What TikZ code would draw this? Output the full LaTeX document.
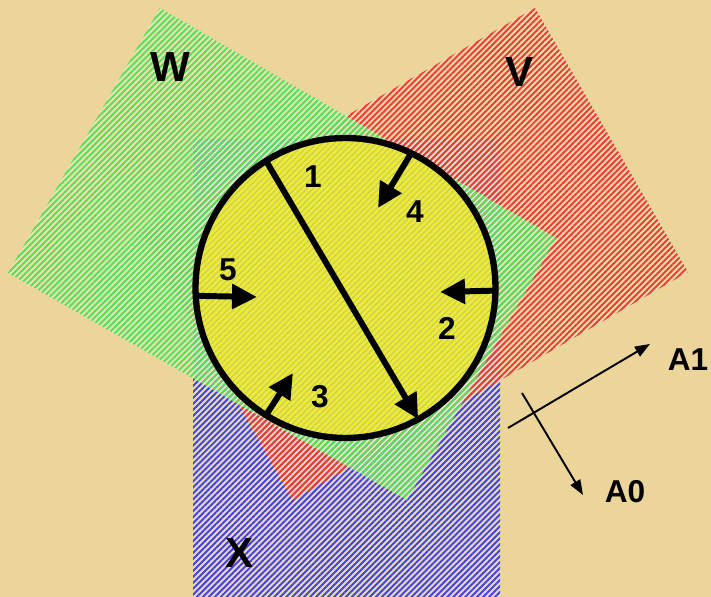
\documentclass[tikz,border=0pt]{standalone}
\usepackage{fontspec}
\setmainfont{Liberation Sans}
\usepackage{tikz}
\usetikzlibrary{arrows.meta, patterns.meta, positioning}
\definecolor{paper}{RGB}{236,213,155}
\definecolor{wgreen}{RGB}{85,225,85}
\definecolor{vred}{RGB}{240,60,45}
\definecolor{xblue}{RGB}{65,65,235}
\definecolor{discyellow}{RGB}{236,236,55}
\definecolor{discline}{RGB}{205,205,85}

\begin{document}
\begin{tikzpicture}[x=0.02cm, y=-0.02cm,
    hatch/.style={fill=#1!12!white, fill opacity=0.3,
        postaction={fill opacity=0.6, pattern={Lines[angle=45, distance=2.4pt, line width=1.1pt]}, pattern color=#1}},
    lbl/.style={font=\bfseries\fontsize{24}{24}\selectfont},
    num/.style={font=\bfseries\fontsize{18}{18}\selectfont},
    push/.style={line width=3.4pt, -{Triangle[length=0.5cm, width=0.48cm]}},
    dirn/.style={line width=1.1pt, -{Triangle[length=0.3cm, width=0.22cm]}}]
    \useasboundingbox (0,0) rectangle (711,597);
    \fill[paper] (0,0) rectangle (711,597);

    % the three sheets
    \fill[hatch=xblue] (193,140) rectangle (500,599);
    \fill[hatch=vred] (535,8) -- (688,272) -- (293,500) -- (141,233) -- cycle;
    \fill[hatch=wgreen] (160,8) -- (556,238) -- (407,500) -- (8,273) -- cycle;
    \node[lbl] (W) at (170,67) {W};
    \node[lbl] (V) at (520,72) {V};
    \node[lbl] (X) at (240,553) {X};

    % disc
    \node[circle, draw, line width=3.6pt, minimum size=6cm, inner sep=0pt, outer sep=0pt,
          preaction={fill=discyellow},
          pattern={Lines[angle=45, distance=2.4pt, line width=0.7pt]}, pattern color=discline]
          (disc) at (345.5,288) {};

    \coordinate (tip4) at (378,208);
    \coordinate (tip2) at (440,292);
    \coordinate (tip5) at (257,297);
    \coordinate (tip3) at (293,373);
    \draw[push] (disc.122.6) -- (disc.-61);
    \draw[push] (disc.64) -- (tip4);
    \draw[push] (disc.-1.5) -- (tip2);
    \draw[push] (disc.183.4) -- (tip5);
    \draw[push] (disc.238.7) -- (tip3);
    \node[num] (n1) at (313,177) {1};
    \node[num] (n4) at (415,212) {4};
    \node[num] (n2) at (447,328) {2};
    \node[num] (n5) at (228,270) {5};
    \node[num] (n3) at (320,397) {3};

    % directions
    \coordinate (a1from) at (508,428);
    \coordinate (a1to) at (650,344);
    \coordinate (a0from) at (522,393);
    \coordinate (a0to) at (583,495);
    \draw[dirn] (a1from) -- (a1to);
    \draw[dirn] (a0from) -- (a0to);
    \node[num] (A1) at (688,360) {A1};
    \node[num] (A0) at (625,492) {A0};
\end{tikzpicture}
\end{document}
